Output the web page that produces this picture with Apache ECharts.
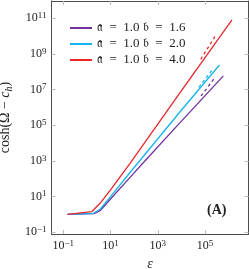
<!DOCTYPE html>
<html><head><meta charset="utf-8">
<script src="https://cdn.jsdelivr.net/npm/echarts@6/dist/echarts.min.js"></script>
<style>html,body{margin:0;padding:0;background:#fff}#c{width:249px;height:269px}</style>
</head><body><div id="c"></div>
<script>
// ---- data ----
const names = ['𝔞 = 1.0 𝔟 = 1.6', '𝔞 = 1.0 𝔟 = 2.0', '𝔞 = 1.0 𝔟 = 4.0'];
const colors = ['#7030A0', '#12B4EE', '#E8262B'];

const epsPurple = [0.15, 2.0, 3.6, 10, 67, 310, 8800, 6.0e5];
const valPurple = [1.0, 1.12, 1.62, 7.3, 120, 1135, 1.41e5, 5.9e7];
const epsBlue = [0.15, 1.9, 3.6, 10, 67, 8800, 4.1e5];
const valBlue = [1.0, 1.16, 1.95, 10, 224, 5.75e5, 2.4e8];
const epsRed = [0.15, 1.6, 3.6, 10, 67, 8800, 1.39e6];
const valRed = [1.0, 1.43, 4.2, 24, 740, 6.8e6, 8.1e10];

// asymptotic (dashed) lines
const epsPurpleAsym = [6.8e4, 2.4e5];
const valPurpleAsym = [4.4e6, 4.0e7];
const epsBlueAsym = [5.5e4, 2.14e5];
const valBlueAsym = [1.35e7, 1.38e8];
const epsRedAsym = [6.6e4, 2.63e5];
const valRedAsym = [5.0e8, 9.3e9];

const xTicks = [0.1, 10, 1000, 1e5];
const yTicks = [0.1, 10, 1000, 1e5, 1e7, 1e9, 1e11];
const xRange = [0.0316, 6.97e6];
const yRange = [0.080, 9.3e11];

// ---- chart ----
const FONT = 'Liberation Serif';
const zip = (a, b) => a.map((v, i) => [v, b[i]]);
const supFmt = v => {
  const e = Math.round(Math.log10(v));
  return '{b|10}{s|' + (e < 0 ? '\u2212' + (-e) : e) + '}';
};
const labRich = {
  b: {fontSize: 12, fontFamily: FONT, color: '#222', lineHeight: 14},
  s: {fontSize: 9, fontFamily: FONT, color: '#222', verticalAlign: 'top', lineHeight: 9}
};
const tickStyle = {inside: true, length: 4, lineStyle: {color: '#bdbdbd', width: 1}};
function xAx(pos, main) {
  return {
    type: 'log', logBase: 10, position: pos, min: xRange[0], max: xRange[1],
    axisLine: {show: true, onZero: false, lineStyle: {color: '#4d4d4d', width: 1}},
    axisTick: Object.assign({customValues: xTicks}, tickStyle),
    axisLabel: main ? {customValues: xTicks, formatter: supFmt, rich: labRich, margin: 5} : {show: false},
    splitLine: {show: false},
    name: main ? 'ε' : '', nameLocation: 'middle', nameGap: 21,
    nameTextStyle: {fontFamily: FONT, fontStyle: 'italic', fontSize: 14, color: '#222'}
  };
}
function yAx(pos, main) {
  return {
    type: 'log', logBase: 10, position: pos, min: yRange[0], max: yRange[1],
    axisLine: {show: true, onZero: false, lineStyle: {color: '#4d4d4d', width: 1}},
    axisTick: Object.assign({customValues: yTicks}, tickStyle),
    axisLabel: main ? {customValues: yTicks, formatter: supFmt, rich: labRich, margin: 5} : {show: false},
    splitLine: {show: false},
    name: main ? '{n|cosh(Ω \u2212 }{i|c}{sub|h}{n|)}' : '',
    nameLocation: 'middle', nameGap: 33, nameRotate: 90,
    nameTextStyle: {
      fontFamily: FONT, fontSize: 14, color: '#222',
      rich: {
        n: {fontFamily: FONT, fontSize: 14, color: '#222', lineHeight: 18},
        i: {fontFamily: FONT, fontSize: 14, fontStyle: 'italic', color: '#222', lineHeight: 18},
        sub: {fontFamily: FONT, fontSize: 10, fontStyle: 'italic', color: '#222', verticalAlign: 'bottom', lineHeight: 10}
      }
    }
  };
}
const solid = [[epsPurple, valPurple], [epsBlue, valBlue], [epsRed, valRed]];
const dashed = [[epsPurpleAsym, valPurpleAsym], [epsBlueAsym, valBlueAsym], [epsRedAsym, valRedAsym]];
const series = [];
dashed.forEach((d, i) => series.push({
  type: 'line', name: names[i] + ' asym', data: zip(d[0], d[1]), showSymbol: false, silent: true,
  lineStyle: {color: colors[i], width: 1.3, type: [3, 3]}, itemStyle: {color: colors[i]}
}));
solid.forEach((d, i) => series.push({
  type: 'line', name: names[i], data: zip(d[0], d[1]), showSymbol: false,
  lineStyle: {color: colors[i], width: 1.3}, itemStyle: {color: colors[i]}
}));

const chart = echarts.init(document.getElementById('c'), null, {renderer: 'canvas'});
chart.setOption({
  animation: false,
  backgroundColor: '#fff',
  grid: {left: 51.5, right: 0.5, top: 1, bottom: 35, containLabel: false, outerBoundsMode: 'none'},
  xAxis: [xAx('bottom', true), xAx('top', false)],
  yAxis: [yAx('left', true), yAx('right', false)],
  legend: {
    data: names, orient: 'vertical', left: 65, top: 15, icon: 'rect',
    itemWidth: 22, itemHeight: 2, itemGap: 0,
    formatter: n => n.replace(/ = /g, '\u2002=\u2002'),
    textStyle: {fontFamily: FONT, fontSize: 13, color: '#222', lineHeight: 16}
  },
  graphic: [{
    type: 'text', left: 207, top: 203,
    style: {text: '(A)', font: 'bold 14px "Liberation Serif"', fill: '#222'}
  }],
  series: series
});
</script></body></html>
